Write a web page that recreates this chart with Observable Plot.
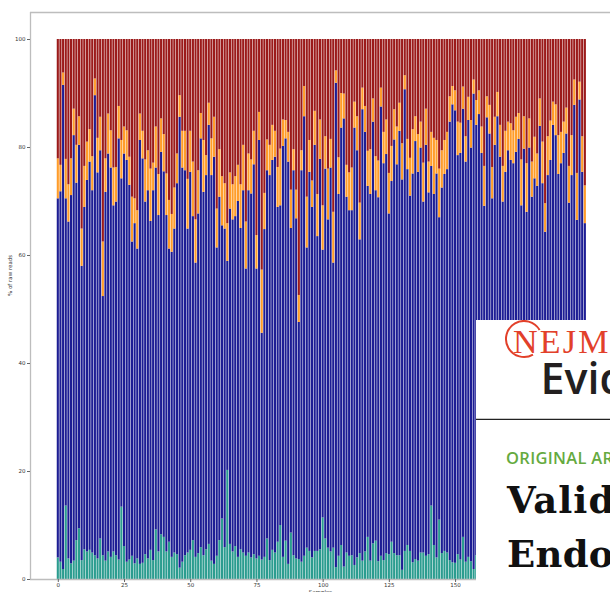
<!DOCTYPE html>
<html><head><meta charset="utf-8">
<script src="https://cdn.jsdelivr.net/npm/d3@7"></script>
<script src="https://cdn.jsdelivr.net/npm/@observablehq/plot@0.6"></script>
<style>
body{margin:0;background:#fff;}
#wrap{position:relative;width:610px;height:592px;overflow:hidden;background:#fff;}
#card{position:absolute;left:476px;top:320px;width:134px;height:272px;background:#fff;overflow:hidden;}
#card svg{display:block;}
</style></head><body>
<div id="wrap"><div id="chart"></div>
<div id="card">
<svg width="134" height="272" viewBox="0 0 134 272">
  <path d="M63.6 10 A18 18 0 1 0 57 34.6" fill="none" stroke="#e2402a" stroke-width="2"/>
  <text x="37" y="33" font-family="Liberation Serif" font-size="34" letter-spacing="2.2" fill="#e2402a">NEJM</text>
  <text x="64.5" y="74" font-family="Open Sans" font-weight="600" font-size="43" fill="#231f20">Evidence</text>
  <line x1="0" x2="134" y1="99.3" y2="99.3" stroke="#222" stroke-width="1.3"/>
  <text x="30" y="144" font-family="Open Sans" font-weight="600" font-size="16.5" letter-spacing="0.3" fill="#65aa3f">ORIGINAL ARTICLE</text>
  <text x="31" y="193" font-family="DejaVu Serif" font-weight="bold" font-size="37" letter-spacing="1" fill="#111">Validation</text>
  <text x="31" y="247" font-family="DejaVu Serif" font-weight="bold" font-size="37" letter-spacing="0.3" fill="#111">Endometrial</text>
</svg>
</div></div>
<script>
// top boundary (% of raw reads) of each stacked segment, per sample 0..199
const tealTop = [
4.0,3.2,1.85,13.6,3.8,2.9,3.4,7.2,9.4,3.5,5.5,5.1,5.4,4.9,4.4,3.8,7.5,4.4,3.4,5.1,4.1,5.1,4.4,3.6,13.4,6.1,3.2,3.6,4.3,2.9,3.8,2.8,3.0,4.6,3.8,5.4,3.5,9.2,5.1,8.3,7.8,5.1,6.9,4.1,4.9,4.6,2.1,3.2,4.4,4.9,
5.4,7.2,4.1,4.8,5.9,4.4,5.5,6.5,3.4,2.8,4.3,7.2,11.2,5.9,20.2,6.5,5.1,6.1,4.1,5.5,4.9,4.3,4.9,4.0,4.6,3.8,4.3,3.6,4.1,7.5,3.5,5.4,4.9,6.9,10.0,4.1,7.1,2.8,8.6,4.4,3.8,3.7,3.2,4.3,5.8,5.2,4.0,5.2,5.2,5.5,
11.4,7.5,5.8,5.1,5.8,2.2,4.3,6.3,2.3,4.9,4.3,4.4,2.6,4.0,4.8,3.4,5.1,7.8,3.4,6.6,7.1,3.3,4.3,3.5,4.8,4.6,6.9,4.8,4.4,4.4,1.7,5.2,6.3,5.2,3.1,3.7,3.4,4.9,4.9,4.3,4.6,13.6,6.3,4.0,11.0,4.8,5.2,4.9,3.5,3.1,
3.0,4.6,3.6,7.8,3.2,4.1,3.3,1.85,4.4,4.2,3.9,5.0,4.6,3.7,4.8,5.3,4.1,3.5,4.4,6.0,4.7,3.8,4.3,5.1,4.0,3.6,4.9,5.5,4.2,3.9,4.5,5.2,3.7,4.1,6.3,4.4,3.8,4.6,5.0,4.3,3.9,4.7,5.4,4.0,3.6,4.8,4.2,5.1,3.9,4.4
];
const blueTop = [
70.5,71.8,91.5,70.5,66.2,71.1,82.2,73.4,80.4,58.0,68.9,73.9,77.3,72.0,89.6,75.3,79.4,52.4,71.7,78.8,76.2,69.2,69.9,81.6,74.2,78.8,77.6,73.0,62.5,65.9,61.2,81.3,77.9,69.9,72.0,66.3,72.0,76.2,67.4,79.1,75.5,67.4,61.2,60.6,64.9,73.3,85.6,76.2,75.7,64.9,
75.4,67.2,58.6,67.7,81.6,71.7,74.8,84.1,74.8,78.2,61.4,70.8,65.5,64.9,58.9,68.6,66.6,67.2,70.0,65.0,72.0,57.5,72.0,71.4,76.8,57.5,81.3,45.6,64.8,75.7,74.8,77.6,78.2,68.9,69.2,80.2,81.6,77.3,65.0,75.7,66.8,47.6,75.7,85.7,61.4,75.4,68.9,80.4,63.5,77.8,
61.0,76.0,66.6,76.2,58.6,91.9,71.3,83.6,85.3,70.8,68.3,68.3,83.6,79.4,62.9,87.0,82.8,72.8,71.3,84.7,72.0,70.7,87.5,77.0,78.7,67.7,73.7,81.4,76.8,83.0,74.0,90.7,75.9,71.0,75.1,81.1,75.4,79.9,69.9,80.4,71.6,76.5,71.3,75.1,67.0,72.5,75.0,75.9,84.7,87.9,
86.8,78.5,78.9,87.1,77.3,85.0,79.9,89.9,84.1,86.1,78.9,69.1,85.5,82.5,70.5,80.4,85.7,78.2,69.9,75.4,79.4,77.6,77.0,79.1,81.5,69.2,79.7,68.0,79.9,70.8,74.2,72.8,83.9,73.3,64.3,74.8,77.6,84.1,82.2,75.0,77.0,78.9,82.5,69.7,74.8,87.8,66.5,88.8,75.4,65.9
];
const orangeTop = [
77.9,76.7,93.8,77.8,73.1,77.9,87.1,80.4,85.7,64.9,76.5,81.0,83.3,78.3,92.7,81.7,85.6,62.5,77.9,86.2,83.1,76.2,76.3,87.6,81.3,83.8,83.1,78.2,70.8,70.5,68.3,86.2,83.0,77.7,79.4,76.0,77.1,83.8,75.0,85.3,82.4,75.1,70.2,67.6,72.5,78.8,89.6,83.0,83.0,74.1,
83.0,77.3,66.6,75.7,86.3,81.3,78.5,88.2,81.6,85.6,68.6,79.6,74.6,73.3,65.9,75.3,73.1,74.6,76.7,73.1,80.4,66.2,78.8,77.7,83.0,63.7,86.5,57.3,71.5,81.4,80.4,84.1,83.0,76.3,79.7,85.1,85.0,82.8,72.1,79.6,72.1,52.6,79.4,91.3,70.8,81.3,73.8,86.7,71.3,85.1,
69.2,82.0,76.0,81.5,68.0,94.2,78.1,90.0,89.9,76.7,75.3,76.2,88.4,85.7,69.7,91.0,87.6,79.3,79.6,89.0,78.3,77.5,91.0,82.8,85.1,75.2,80.2,87.0,83.8,88.2,80.7,93.3,81.5,78.0,83.3,85.7,82.4,84.7,77.1,87.1,77.3,82.8,81.7,81.3,76.0,79.4,81.3,82.8,89.4,91.3,
90.5,84.7,84.5,91.2,82.0,89.3,85.0,92.5,88.7,90.5,83.8,76.5,89.4,87.8,76.3,85.6,90.2,84.1,76.5,83.0,84.7,84.4,83.1,85.6,86.3,77.7,85.7,77.0,85.3,77.3,81.9,78.8,89.0,81.0,69.6,82.0,84.9,88.4,87.9,82.2,82.8,84.7,87.3,76.5,82.2,92.5,75.2,92.1,82.0,72.9
];
const total = 100;
const seriesNames = ["Segment 1", "Segment 2", "Segment 3", "Segment 4"];
const seriesColors = ["#2b9c8f", "#1d1d94", "#ff9d2a", "#9b1a1a"];
const yTicks = [0, 20, 40, 60, 80, 100];
const xTicks = [0, 25, 50, 75, 100, 125, 150, 175, 200];

const n = tealTop.length;
if (blueTop.length !== n || orangeTop.length !== n || n !== 200)
  throw new Error("length mismatch " + [tealTop.length, blueTop.length, orangeTop.length]);

const rows = [];
tealTop.forEach((t, i) => {
  rows.push({sample: i, series: seriesNames[0], y1: 0, y2: t});
  rows.push({sample: i, series: seriesNames[1], y1: t, y2: blueTop[i]});
  rows.push({sample: i, series: seriesNames[2], y1: blueTop[i], y2: orangeTop[i]});
  rows.push({sample: i, series: seriesNames[3], y1: orangeTop[i], y2: total});
});

const chart = Plot.plot({
  width: 610, height: 592,
  marginLeft: 30, marginRight: 0, marginTop: 12, marginBottom: 13,
  style: {fontFamily: "DejaVu Sans", color: "#333", background: "transparent"},
  x: {domain: [-10.5, 208.5]},
  y: {domain: [0, 105]},
  color: {type: "ordinal", domain: seriesNames, range: seriesColors},
  marks: [
    Plot.rectY(rows, {x1: d => d.sample - 0.4, x2: d => d.sample + 0.4, y1: "y1", y2: "y2", fill: "series"}),
    Plot.ruleX([-10.5], {stroke: "#bdbdbd", strokeWidth: 1.3}),
    Plot.ruleY([0, 105], {stroke: "#bdbdbd", strokeWidth: 1.3}),
    Plot.axisY({ticks: yTicks, tickSize: 3, tickPadding: 2, fontSize: 5.5, label: null, stroke: "#666"}),
    Plot.axisX({ticks: xTicks, tickSize: 3, tickPadding: 1, fontSize: 5.5, label: null, stroke: "#666"}),
    Plot.text(["Samples"], {frameAnchor: "bottom", dy: 11, lineAnchor: "top", fontSize: 5.5, fill: "#333"}),
    Plot.text(["% of raw reads"], {frameAnchor: "left", dx: -20, rotate: -90, fontSize: 5.5, fill: "#333"})
  ]
});
document.getElementById("chart").appendChild(chart);
</script>
</body></html>
